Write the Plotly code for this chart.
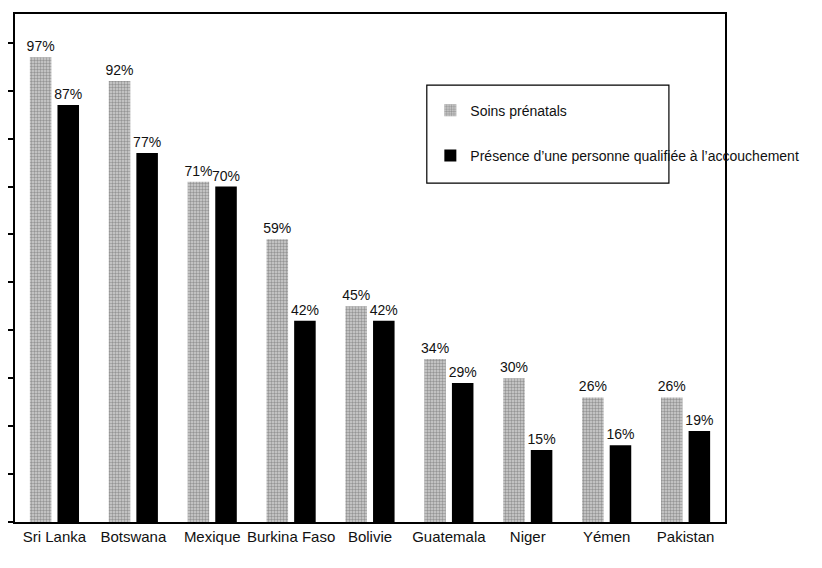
import plotly.graph_objects as go

countries = ["Sri Lanka", "Botswana", "Mexique", "Burkina Faso", "Bolivie",
             "Guatemala", "Niger", "Yémen", "Pakistan"]
prenatal = [97, 92, 71, 59, 45, 34, 30, 26, 26]
qualified = [87, 77, 70, 42, 42, 29, 15, 16, 19]
series_names = ["Soins prénatals", "Présence d’une personne qualifiée à l’accouchement"]
y_ticks = [0, 10, 20, 30, 40, 50, 60, 70, 80, 90, 100]

FONT = "Liberation Sans, Arial, sans-serif"

fig = go.Figure()
fig.add_trace(go.Bar(
    x=countries, y=prenatal, name=series_names[0], legendgroup="g1",
    marker=dict(color="#b8b8b8", line=dict(width=0),
                pattern=dict(shape=".", fgcolor="#5a5a5a", bgcolor="#d0d0d0",
                             size=3, solidity=0.5)),
    texttemplate="%{y}%", textposition="outside", constraintext="none",
    outsidetextfont=dict(family=FONT, size=14, color="#111"),
    cliponaxis=False,
))
fig.add_trace(go.Bar(
    x=countries, y=qualified, name=series_names[1], legendgroup="g2",
    marker=dict(color="#000000", line=dict(width=0)),
    texttemplate="%{y}%", textposition="outside", constraintext="none",
    outsidetextfont=dict(family=FONT, size=14, color="#111"),
    cliponaxis=False,
))

fig.update_layout(
    width=822, height=568,
    margin=dict(l=7, r=105, t=6, b=54, autoexpand=False),
    paper_bgcolor="white", plot_bgcolor="white",
    barmode="group", bargap=0.3, bargroupgap=0.22,
    font=dict(family=FONT, size=14, color="#111"),
    showlegend=True,
    legend=dict(x=0.585, y=0.841, xanchor="left", yanchor="top",
                bgcolor="rgba(0,0,0,0)", borderwidth=0,
                font=dict(family=FONT, size=14, color="#111"),
                tracegroupgap=24, itemwidth=30),
    xaxis=dict(showline=True, linecolor="black", linewidth=1.5, mirror=True,
               ticks="", showgrid=False, tickangle=0, automargin=False,
               tickfont=dict(family=FONT, size=15, color="#111")),
    yaxis=dict(range=[0, 106], tickvals=y_ticks, showticklabels=False,
               ticks="outside", ticklen=7, tickwidth=1.5, tickcolor="black",
               showline=True, linecolor="black", linewidth=1.5, mirror=True,
               showgrid=False, zeroline=False, automargin=False),
    shapes=[dict(type="rect", xref="paper", yref="paper",
                 x0=0.580, x1=0.921, y0=0.667, y1=0.860,
                 line=dict(color="black", width=1.2), fillcolor="rgba(0,0,0,0)")],
)

fig.write_html("out.html")
